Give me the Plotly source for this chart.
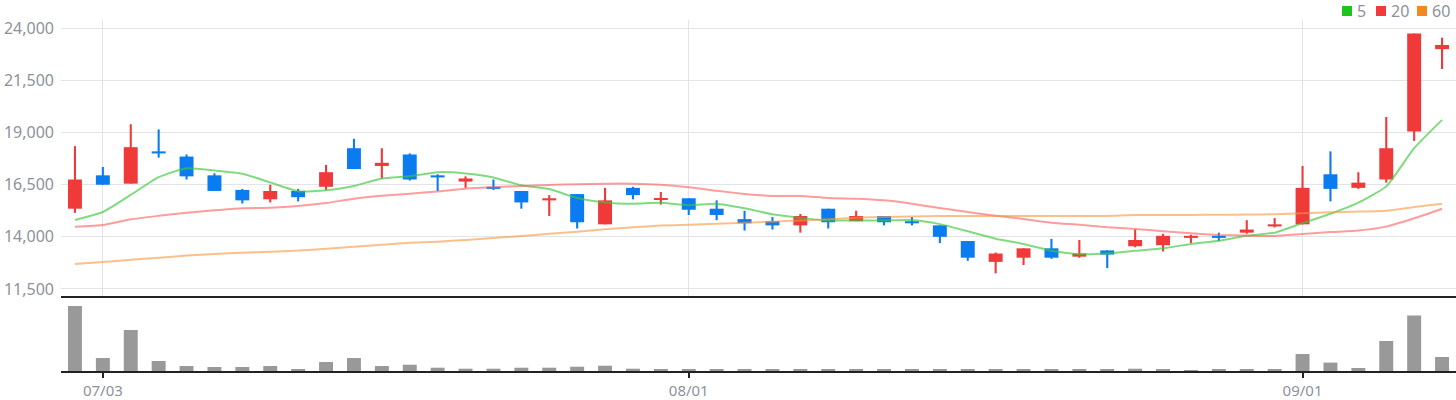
import plotly.graph_objects as go

# ---------------- data ----------------
dates = ["06/30", "07/03", "07/04", "07/05", "07/06", "07/07", "07/10", "07/11", "07/12", "07/13",
         "07/14", "07/17", "07/18", "07/19", "07/20", "07/21", "07/24", "07/25", "07/26", "07/27",
         "07/28", "07/31", "08/01", "08/02", "08/03", "08/04", "08/07", "08/08", "08/09", "08/10",
         "08/11", "08/14", "08/16", "08/17", "08/18", "08/21", "08/22", "08/23", "08/24", "08/25",
         "08/28", "08/29", "08/30", "08/31", "09/01", "09/04", "09/05", "09/06", "09/07", "09/08"]

opens = [15350, 16950, 16550, 18100, 17850, 16950, 16250, 15800, 16200, 16400,
         18250, 17400, 17950, 16950, 16650, 16400, 16200, 15750, 16050, 14600,
         16350, 15800, 15850, 15350, 14850, 14750, 14550, 15350, 14750, 15000,
         14750, 14550, 13800, 12800, 13000, 13450, 13050, 13350, 13550, 13600,
         13950, 14050, 14200, 14500, 14600, 17000, 16350, 16750, 19050, 23000]
highs = [18350, 17350, 19400, 19150, 17950, 17050, 16300, 16500, 16300, 17450,
         18700, 18250, 18000, 17000, 16900, 16750, 16200, 16000, 16050, 16350,
         16400, 16150, 15850, 15750, 15250, 14950, 15100, 15350, 15250, 15000,
         14950, 14550, 13800, 13250, 13450, 13900, 13850, 13350, 14350, 14150,
         14100, 14200, 14800, 14900, 17400, 18100, 17100, 19750, 23750, 23550]
lows = [15150, 16500, 16550, 17800, 16750, 16200, 15600, 15650, 15700, 16250,
        17250, 16800, 16700, 16200, 16350, 16250, 15350, 15000, 14400, 14600,
        15800, 15550, 15050, 14800, 14300, 14350, 14200, 14400, 14750, 14550,
        14550, 13700, 12850, 12250, 12650, 12950, 13000, 12500, 13500, 13300,
        13700, 13800, 14150, 14450, 14600, 15700, 16300, 16600, 18600, 22050]
closes = [16750, 16500, 18300, 18000, 16900, 16200, 15750, 16200, 15900, 17100,
          17250, 17550, 16750, 16850, 16800, 16300, 15650, 15850, 14700, 15750,
          16000, 15850, 15300, 15050, 14650, 14550, 15000, 14700, 15000, 14700,
          14650, 14000, 13000, 13200, 13450, 13000, 13200, 13150, 13850, 14050,
          14050, 13950, 14350, 14600, 16350, 16300, 16600, 18250, 23750, 23200]

ma5 = [14810, 15190, 16010, 16860, 17290, 17180, 17030, 16610, 16190, 16230,
       16440, 16800, 16910, 17100, 17040, 16850, 16470, 16290, 15860, 15650,
       15590, 15630, 15520, 15590, 15370, 15080, 14910, 14790, 14780, 14790,
       14810, 14610, 14270, 13910, 13660, 13330, 13170, 13200, 13330, 13450,
       13660, 13810, 14050, 14200, 14660, 15110, 15640, 16420, 18250, 19610]
ma20 = [14490, 14570, 14840, 15010, 15160, 15270, 15370, 15400, 15480, 15620,
        15830, 15970, 16070, 16180, 16310, 16380, 16440, 16490, 16520, 16550,
        16550, 16500, 16380, 16210, 16060, 15960, 15960, 15860, 15830, 15750,
        15590, 15380, 15190, 15010, 14860, 14680, 14580, 14460, 14380, 14270,
        14170, 14090, 14060, 14040, 14140, 14230, 14300, 14490, 14890, 15350]
ma60 = [12700, 12790, 12900, 13000, 13100, 13180, 13240, 13290, 13340, 13430,
        13530, 13620, 13720, 13770, 13850, 13950, 14040, 14150, 14250, 14360,
        14460, 14540, 14580, 14630, 14680, 14730, 14780, 14840, 14920, 14950,
        14970, 15000, 15000, 15000, 15000, 15000, 15000, 15000, 15050, 15050,
        15050, 15060, 15070, 15080, 15130, 15180, 15210, 15250, 15430, 15590]

volumes = [650000, 130000, 410000, 100000, 50000, 40000, 40000, 50000, 20000, 90000,
           130000, 50000, 63000, 33000, 23000, 23000, 33000, 33000, 43000, 53000,
           23000, 13000, 20000, 20000, 13000, 13000, 13000, 13000, 13000, 13000,
           13000, 13000, 13000, 13000, 13000, 13000, 13000, 13000, 23000, 13000,
           2000, 13000, 13000, 13000, 170000, 84000, 30000, 300000, 555000, 140000]

price_ticks = [11500, 14000, 16500, 19000, 21500, 24000]
date_ticks = ["07/03", "08/01", "09/01"]
ma_names = ["5", "20", "60"]

# ---------------- styles ----------------
RED = "#f03a3a"
BLUE = "#0b7cf0"
VOL_GRAY = "#999999"
GRID = "#e3e4e8"
AXIS = "#222222"
TXT = "#8e929b"
FONT = "Noto Sans"
ma_line_colors = ["rgba(60,200,60,0.65)", "rgba(255,90,90,0.6)", "rgba(247,150,60,0.6)"]
ma_legend_colors = ["#1ec41e", "#f23a3a", "#f5871f"]

W, H = 1456, 400
ML, MR, MT, MB = 61, 0, 20, 29
PANEL_SPLIT_PX = 296  # y pixel of separator line
plot_h = H - MT - MB
split = (H - MB - PANEL_SPLIT_PX) / plot_h

n = len(dates)
idx = list(range(n))
colors = [RED if c >= o else BLUE for o, c in zip(opens, closes)]

fig = go.Figure()

# wicks
fig.add_trace(go.Bar(
    x=idx, y=[h - l for h, l in zip(highs, lows)], base=lows, width=0.075,
    marker=dict(color=colors, line=dict(width=0)), showlegend=False,
    hoverinfo="skip", xaxis="x", yaxis="y"))
# bodies
fig.add_trace(go.Bar(
    x=idx, y=[abs(c - o) for o, c in zip(opens, closes)],
    base=[min(o, c) for o, c in zip(opens, closes)], width=0.5,
    marker=dict(color=colors, line=dict(width=0)), showlegend=False,
    xaxis="x", yaxis="y"))

# moving averages
for name, vals, col in zip(ma_names, [ma5, ma20, ma60], ma_line_colors):
    fig.add_trace(go.Scatter(
        x=idx, y=vals, mode="lines", name=name,
        line=dict(color=col, width=2, shape="spline", smoothing=0.5),
        showlegend=False, xaxis="x", yaxis="y"))

# volume
fig.add_trace(go.Bar(
    x=idx, y=volumes, width=0.5, marker=dict(color=VOL_GRAY, line=dict(width=0)),
    showlegend=False, xaxis="x2", yaxis="y2"))

tick_idx = [dates.index(d) for d in date_ticks]

fig.update_layout(
    width=W, height=H,
    margin=dict(l=ML, r=MR, t=MT, b=MB),
    paper_bgcolor="white", plot_bgcolor="white",
    barmode="overlay",
    font=dict(family=FONT, color=TXT, size=16),
    xaxis=dict(domain=[0, 1], range=[-0.5, n - 0.5], anchor="y",
               tickvals=tick_idx, showticklabels=False, ticks="",
               showgrid=True, gridcolor=GRID, gridwidth=1,
               showline=True, linecolor=AXIS, linewidth=2, zeroline=False),
    yaxis=dict(domain=[split, 1], range=[11164, 24398], anchor="x",
               tickvals=price_ticks, ticktext=[f"{v:,}" for v in price_ticks],
               showgrid=True, gridcolor=GRID, gridwidth=1, zeroline=False,
               showline=False, ticks="", ticklabelstandoff=6,
               tickfont=dict(size=16, color=TXT, family=FONT)),
    xaxis2=dict(domain=[0, 1], range=[-0.5, n - 0.5], anchor="y2",
                tickvals=tick_idx, ticktext=date_ticks,
                ticks="outside", ticklen=5, tickwidth=2, tickcolor=AXIS,
                showgrid=False, showline=True, linecolor=AXIS, linewidth=2,
                zeroline=False, tickfont=dict(size=15, color=TXT, family=FONT)),
    yaxis2=dict(domain=[0, split], range=[0, max(volumes) * 75 / 65], anchor="x2",
                showticklabels=False, showgrid=False, zeroline=False, ticks=""),
    hovermode=False,
)

# legend (top right): colored squares + labels
def px_x(p):
    return (p - ML) / (W - ML - MR)

def px_y(p):
    return (H - MB - p) / plot_h

sq_left = [1342, 1376, 1417]
for name, col, xl in zip(ma_names, ma_legend_colors, sq_left):
    fig.add_shape(type="rect", xref="paper", yref="paper",
                  x0=px_x(xl), x1=px_x(xl + 10), y0=px_y(16), y1=px_y(6),
                  fillcolor=col, line=dict(width=0))
    fig.add_annotation(xref="paper", yref="paper", x=px_x(xl + 13), y=px_y(11),
                       xanchor="left", yanchor="middle", text=name, showarrow=False,
                       font=dict(size=16, color=TXT, family=FONT))

fig.write_html("out.html", config={"displayModeBar": False},
               post_script="document.body.style.margin='0px';document.body.style.overflow='hidden';")
